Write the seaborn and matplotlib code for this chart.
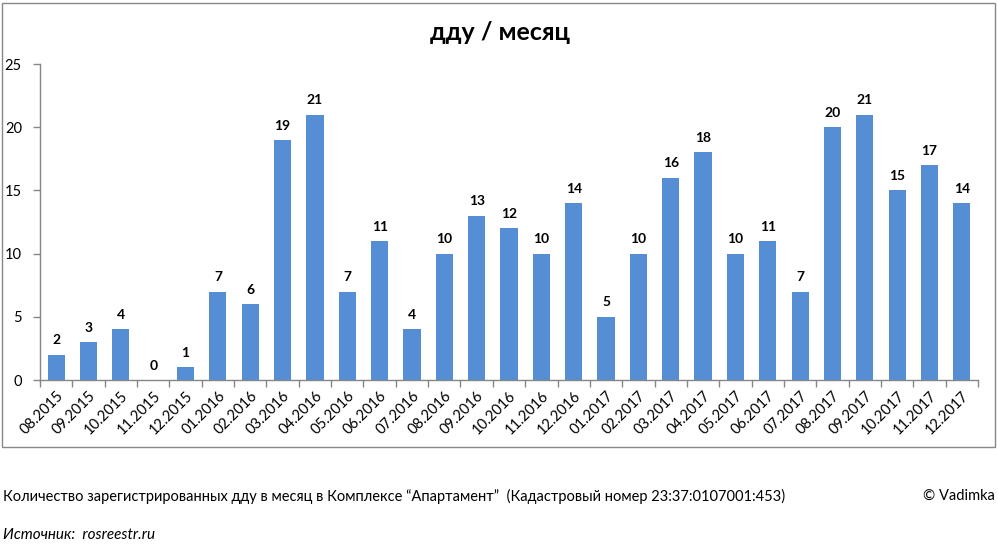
import matplotlib
matplotlib.use("Agg")
import matplotlib.pyplot as plt
import seaborn as sns
import pandas as pd
import numpy as np
from matplotlib.patches import Rectangle
from matplotlib.ticker import FixedLocator

months = ["08.2015", "09.2015", "10.2015", "11.2015", "12.2015",
          "01.2016", "02.2016", "03.2016", "04.2016", "05.2016", "06.2016",
          "07.2016", "08.2016", "09.2016", "10.2016", "11.2016", "12.2016",
          "01.2017", "02.2017", "03.2017", "04.2017", "05.2017", "06.2017",
          "07.2017", "08.2017", "09.2017", "10.2017", "11.2017", "12.2017"]
counts = [2, 3, 4, 0, 1,
          7, 6, 19, 21, 7, 11,
          4, 10, 13, 12, 10, 14,
          5, 10, 16, 18, 10, 11,
          7, 20, 21, 15, 17, 14]
y_ticks = [0, 5, 10, 15, 20, 25]

title = "дду / месяц"
footer = "Количество зарегистрированных дду в месяц в Комплексе \u201cАпартамент\u201d  (Кадастровый номер 23:37:0107001:453)"
copyright_txt = "© Vadimka"
source = "Источник:  rosreestr.ru"

sns.set_theme(style="white")
plt.rcParams['font.family'] = ['Lato', 'DejaVu Sans']

W, H = 998, 546
fig = plt.figure(figsize=(W / 100, H / 100), dpi=100)
ax = fig.add_axes([40 / W, 1 - 380 / H, (978 - 40) / W, (380 - 64) / H])

df = pd.DataFrame({"month": months, "count": counts})
sns.barplot(data=df, x="month", y="count", color="#558ED5", saturation=1,
            width=0.53, ax=ax, order=months, linewidth=0, edgecolor="none")

ax.set_xlim(-0.5, len(months) - 0.5)
ax.set_ylim(0, 25)
ax.set_yticks(y_ticks)
ax.set_xlabel("")
ax.set_ylabel("")

for i, v in enumerate(counts):
    ax.annotate(str(v), (i, v), xytext=(0, 6), textcoords="offset points",
                ha="center", va="bottom", fontsize=10, fontweight="bold",
                color="#000000")

for s in ["top", "right"]:
    ax.spines[s].set_visible(False)
for s in ["left", "bottom"]:
    ax.spines[s].set_color("#868686")
    ax.spines[s].set_linewidth(1)

ax.tick_params(axis="y", which="major", length=5, width=1, color="#868686",
               labelsize=10.5, labelcolor="#000000", pad=8, left=True)
ax.xaxis.set_minor_locator(FixedLocator(np.arange(-0.5, len(months), 1)))
ax.tick_params(axis="x", which="minor", length=5, width=1, color="#868686",
               bottom=True)
ax.tick_params(axis="x", which="major", length=0, labelsize=10.5,
               labelcolor="#000000", pad=6)
for lbl in ax.get_xticklabels():
    lbl.set_rotation(45)
    lbl.set_ha("right")
    lbl.set_va("top")
    lbl.set_rotation_mode("anchor")

fig.text(500 / W, 1 - 32 / H, title, ha="center", va="center",
         fontsize=18, fontweight="bold", color="#000000")

fig.patches.append(Rectangle((2 / W, 1 - 447 / H), (995 - 2) / W, (447 - 3) / H,
                             transform=fig.transFigure, fill=False,
                             edgecolor="#888888", linewidth=1))

fig.text(3 / W, 1 - 496 / H, footer, ha="left", va="center", fontsize=10.5,
         color="#000000")
fig.text(995 / W, 1 - 496 / H, copyright_txt, ha="right", va="center",
         fontsize=10.5, color="#000000")
fig.text(3 / W, 1 - 535 / H, source, ha="left", va="center", fontsize=11,
         style="italic", color="#000000")

fig.savefig("out.png", dpi=100, facecolor="white")
